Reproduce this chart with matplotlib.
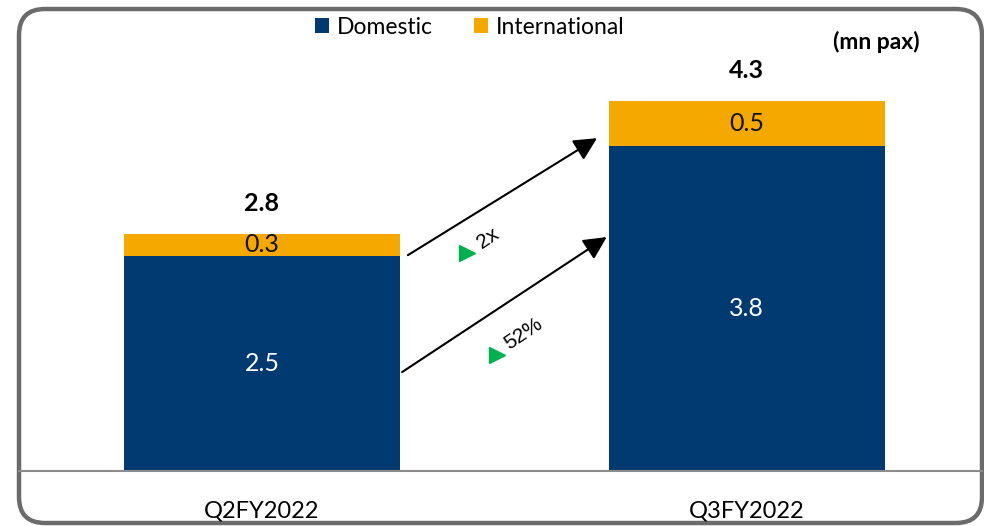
import matplotlib
matplotlib.use("Agg")
import matplotlib.pyplot as plt
from matplotlib.patches import FancyBboxPatch, Patch

categories = ["Q2FY2022", "Q3FY2022"]
domestic = [2.50, 3.78]
international = [0.26, 0.52]
growth_labels = ["2x", "52%"]
unit_label = "(mn pax)"

NAVY = "#003A70"
ORANGE = "#F5A800"
GREEN = "#00B050"
CAL = ["Lato", "DejaVu Sans"]
ARIAL = ["Liberation Sans", "DejaVu Sans"]

W, H = 984, 526
fig = plt.figure(figsize=(W / 100, H / 100), dpi=100)

# frame overlay (pixel coords)
bg = fig.add_axes([0, 0, 1, 1])
bg.set_xlim(0, W)
bg.set_ylim(H, 0)
bg.axis("off")
frame = FancyBboxPatch((19, 9), 963, 514, boxstyle="round,pad=0,rounding_size=26",
                       fill=False, edgecolor="#6b6b6b", linewidth=3.2)
bg.add_patch(frame)

# main axes
left_px, right_px, base_px, top_px = 19, 982, 471, 9
ax = fig.add_axes([left_px / W, (H - base_px) / H, (right_px - left_px) / W, (base_px - top_px) / H])
ax.patch.set_alpha(0)
x = list(range(len(categories)))
bw = 0.569
ax.bar(x, domestic, width=bw, color=NAVY, label="Domestic")
ax.bar(x, international, width=bw, bottom=domestic, color=ORANGE, label="International")
ax.set_xlim(-0.501, 1.485)
ax.set_ylim(0, (base_px - top_px) / 86.0)
for s in ax.spines.values():
    s.set_visible(False)
ax.set_yticks([])
ax.set_xticks(x)
ax.set_xticklabels(categories, family=CAL, fontsize=17)
ax.tick_params(axis="x", length=0, pad=21)
ax.axhline(0, color="#8c8c8c", linewidth=1.5, clip_on=False)

for i in x:
    d, it = domestic[i], international[i]
    ax.text(i, d / 2, f"{d:.1f}", ha="center", va="center", color="white",
            family=CAL, fontsize=18)
    ax.text(i, d + it / 2, f"{it:.1f}", ha="center", va="center", color="#111111",
            family=CAL, fontsize=18)
    ax.annotate(f"{d + it:.1f}", (i, d + it), xytext=(0, 22), textcoords="offset points",
                ha="center", va="center", fontsize=18, fontweight="bold", family=CAL)

# growth arrows
arrows = [((0.301, 2.51), (0.691, 3.87)), ((0.289, 1.15), (0.711, 2.72))]
marks = [(0.423, 2.53), (0.485, 1.35)]
labpos = [(0.466, 2.71), (0.540, 1.60)]
for (t, h), m, lp, lab in zip(arrows, marks, labpos, growth_labels):
    ax.annotate("", xy=h, xytext=t,
                arrowprops=dict(arrowstyle="-|>,head_length=1.4,head_width=0.7",
                                color="black", lw=1.5, shrinkA=0, shrinkB=0))
    ax.plot([m[0]], [m[1]], marker=">", color=GREEN, markersize=11, linestyle="none")
    ax.text(lp[0], lp[1], lab, rotation=34, ha="center", va="center",
            family=ARIAL, fontsize=15)

fig.text(920 / W, 1 - 42 / H, unit_label, ha="right", va="center", fontsize=16.5,
         fontweight="bold", family=CAL)

handles = [Patch(facecolor=NAVY), Patch(facecolor=ORANGE)]
fig.legend(handles, ["Domestic", "International"], loc="center", ncol=2,
           bbox_to_anchor=(470 / W, 1 - 27 / H), frameon=False,
           prop={"family": CAL, "size": 16.5}, handlelength=0.6, handleheight=0.6,
           handletextpad=0.35, columnspacing=1.8, borderaxespad=0)

fig.savefig("out.png", dpi=100)
